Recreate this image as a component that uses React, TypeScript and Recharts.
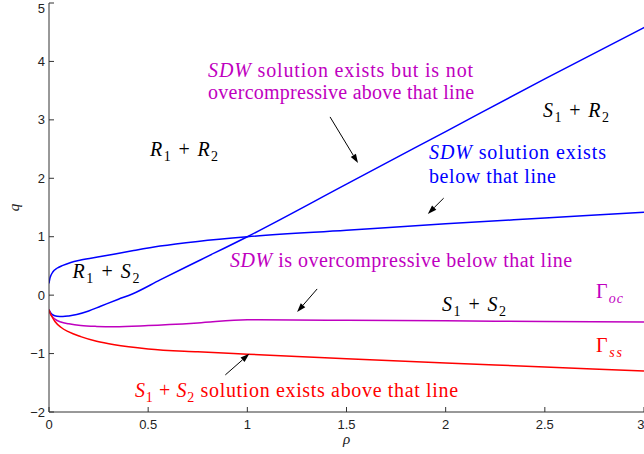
import React from 'react';
import { LineChart, Line, XAxis, YAxis, ReferenceDot, ReferenceLine } from 'recharts';

// ---- data ----
const xTicks = [0, 0.5, 1, 1.5, 2, 2.5, 3];
const yTicks = [-2, -1, 0, 1, 2, 3, 4, 5];

// upper blue curve (SDW solution exists below that line)
const sdwExistsRho = [0, 0.004, 0.01, 0.02, 0.04, 0.07, 0.11, 0.16, 0.26, 0.42, 0.56, 0.75, 1, 1.5, 2, 2.5, 3];
const sdwExistsQ = [0.2, 0.28, 0.34, 0.4, 0.46, 0.51, 0.56, 0.6, 0.66, 0.76, 0.84, 0.92, 1.0, 1.11, 1.22, 1.32, 1.42];

// lower blue curve (SDW not overcompressive above that line)
const sdwNotOcRho = [0, 0.008, 0.02, 0.04, 0.07, 0.1, 0.14, 0.2, 0.26, 0.35, 0.42, 0.56, 0.75, 1, 1.5, 2, 2.5, 3];
const sdwNotOcQ = [-0.25, -0.3, -0.34, -0.36, -0.365, -0.355, -0.33, -0.27, -0.19, -0.07, 0.02, 0.26, 0.58, 1.0, 1.9, 2.8, 3.7, 4.58];

// magenta curve Gamma_oc
const gammaOcRho = [0, 0.005, 0.015, 0.03, 0.06, 0.1, 0.16, 0.24, 0.33, 0.5, 0.75, 1, 1.5, 2, 2.5, 3];
const gammaOcQ = [-0.25, -0.3, -0.36, -0.41, -0.46, -0.49, -0.52, -0.535, -0.54, -0.52, -0.475, -0.42, -0.43, -0.44, -0.45, -0.46];

// red curve Gamma_ss
const gammaSsRho = [0, 0.005, 0.015, 0.03, 0.06, 0.1, 0.16, 0.24, 0.33, 0.5, 0.75, 1, 1.25, 1.5, 2, 2.5, 3];
const gammaSsQ = [-0.25, -0.3, -0.37, -0.45, -0.55, -0.63, -0.71, -0.79, -0.85, -0.92, -0.97, -1.01, -1.05, -1.09, -1.16, -1.23, -1.3];

const toRows = (rho: number[], q: number[]) => rho.map((r, i) => ({ rho: r, q: q[i] }));

type Seg = { t: string; i?: boolean; sub?: boolean };

// annotations (data coordinates: x = rho, y = q at text baseline; w = rendered text width)
const labels: { x: number; y: number; w: number; color: string; anchor: 'start' | 'middle'; segs: Seg[] }[] = [
  { x: 0.802, y: 3.733, w: 265, color: '#bf00bf', anchor: 'start', segs: [{ t: 'SDW', i: true }, { t: ' solution exists but is not' }] },
  { x: 0.802, y: 3.365, w: 266, color: '#bf00bf', anchor: 'start', segs: [{ t: 'overcompressive above that line' }] },
  { x: 0.681, y: 2.381, w: 68, color: '#000000', anchor: 'middle', segs: [{ t: 'R', i: true }, { t: '1', sub: true }, { t: ' + ' }, { t: 'R', i: true }, { t: '2', sub: true }] },
  { x: 2.657, y: 3.057, w: 66, color: '#000000', anchor: 'middle', segs: [{ t: 'S', i: true }, { t: '1', sub: true }, { t: ' + ' }, { t: 'R', i: true }, { t: '2', sub: true }] },
  { x: 1.916, y: 2.324, w: 177, color: '#0000ff', anchor: 'start', segs: [{ t: 'SDW', i: true }, { t: ' solution exists' }] },
  { x: 1.916, y: 1.924, w: 127, color: '#0000ff', anchor: 'start', segs: [{ t: 'below that line' }] },
  { x: 0.287, y: 0.293, w: 67, color: '#000000', anchor: 'middle', segs: [{ t: 'R', i: true }, { t: '1', sub: true }, { t: ' + ' }, { t: 'S', i: true }, { t: '2', sub: true }] },
  { x: 0.913, y: 0.486, w: 342, color: '#bf00bf', anchor: 'start', segs: [{ t: 'SDW', i: true }, { t: ' is overcompressive below that line' }] },
  { x: 2.143, y: -0.272, w: 64, color: '#000000', anchor: 'middle', segs: [{ t: 'S', i: true }, { t: '1', sub: true }, { t: ' + ' }, { t: 'S', i: true }, { t: '2', sub: true }] },
  { x: 2.758, y: -0.05, w: 27, color: '#bf00bf', anchor: 'start', segs: [{ t: 'Γ' }, { t: 'oc', i: true, sub: true }] },
  { x: 2.758, y: -0.98, w: 26, color: '#ff0000', anchor: 'start', segs: [{ t: 'Γ' }, { t: 'ss', i: true, sub: true }] },
  { x: 0.434, y: -1.745, w: 323, color: '#ff0000', anchor: 'start', segs: [{ t: 'S', i: true }, { t: '1', sub: true }, { t: ' + ' }, { t: 'S', i: true }, { t: '2', sub: true }, { t: ' solution exists above that line' }] },
];

const arrows = [
  { from: { x: 1.417, y: 3.05 }, to: { x: 1.558, y: 2.26 } },
  { from: { x: 1.99, y: 1.66 }, to: { x: 1.91, y: 1.39 } },
  { from: { x: 1.352, y: 0.106 }, to: { x: 1.251, y: -0.289 } },
  { from: { x: 0.889, y: -1.365 }, to: { x: 1.01, y: -1.005 } },
];

const SERIF = '"Liberation Serif", "Times New Roman", serif';
const SANS = '"Liberation Sans", Arial, Helvetica, sans-serif';

function MathText({ x, y, w, segs, color, anchor }: { x: number; y: number; w: number; segs: Seg[]; color: string; anchor: string }) {
  let shifted = false;
  const parts = segs.map((s, k) => {
    let dy: number | undefined;
    if (s.sub && !shifted) { dy = 5; shifted = true; }
    else if (!s.sub && shifted) { dy = -5; shifted = false; }
    return (
      <tspan key={k} dy={dy} fontStyle={s.i ? 'italic' : 'normal'} fontSize={s.sub ? 14 : undefined}>
        {s.t}
      </tspan>
    );
  });
  return (
    <text
      x={x}
      y={y}
      fill={color}
      textAnchor={anchor}
      fontFamily={SERIF}
      fontSize={20}
      textLength={w}
      lengthAdjust="spacing"
      style={{ whiteSpace: 'pre' }}
    >
      {parts}
    </text>
  );
}

function Arrow(props: any) {
  const { x1, y1, x2, y2 } = props;
  if ([x1, y1, x2, y2].some((v) => typeof v !== 'number' || isNaN(v))) return null;
  const ang = Math.atan2(y2 - y1, x2 - x1);
  const len = 9;
  const hw = 3;
  const bx = x2 - len * Math.cos(ang);
  const by = y2 - len * Math.sin(ang);
  const px = -Math.sin(ang) * hw;
  const py = Math.cos(ang) * hw;
  return (
    <g>
      <line x1={x1} y1={y1} x2={bx} y2={by} stroke="#000" strokeWidth={1} />
      <polygon points={`${x2},${y2} ${bx + px},${by + py} ${bx - px},${by - py}`} fill="#000" />
    </g>
  );
}

const fmt = (v: number) => String(v).replace('-', '\u2212');

export default function App() {
  return (
    <div style={{ position: 'absolute', left: 0, top: 0, width: 644, height: 454, background: '#fff' }}>
      <LineChart width={644} height={454} margin={{ top: 3, right: 0, bottom: 0, left: 0 }}>
        <XAxis
          type="number"
          dataKey="rho"
          domain={[0, 3]}
          ticks={xTicks}
          allowDataOverflow
          height={42}
          stroke="#333"
          tickSize={-5}
          tickMargin={13}
          tick={{ fontFamily: SANS, fontSize: 13, fill: '#222' }}
          tickFormatter={fmt}
          label={(p: any) => {
            const vb = p.viewBox || {};
            return (
              <text x={vb.x + vb.width / 2} y={vb.y + 32} textAnchor="middle" fontFamily={SERIF} fontStyle="italic" fontSize={15} fill="#222">
                ρ
              </text>
            );
          }}
        />
        <YAxis
          type="number"
          dataKey="q"
          domain={[-2, 5]}
          ticks={yTicks}
          allowDataOverflow
          width={49}
          stroke="#333"
          tickSize={-5}
          tickMargin={9}
          tick={{ fontFamily: SANS, fontSize: 13, fill: '#222' }}
          tickFormatter={fmt}
          label={(p: any) => {
            const vb = p.viewBox || {};
            const cx = vb.x + 14;
            const cy = vb.y + vb.height / 2;
            return (
              <text x={cx} y={cy} transform={`rotate(-90 ${cx} ${cy})`} textAnchor="middle" dominantBaseline="central" fontFamily={SERIF} fontStyle="italic" fontSize={15} fill="#222">
                q
              </text>
            );
          }}
        />
        <Line data={toRows(sdwExistsRho, sdwExistsQ)} dataKey="q" type="monotone" stroke="#0000ff" strokeWidth={1.5} dot={false} activeDot={false} isAnimationActive={false} />
        <Line data={toRows(sdwNotOcRho, sdwNotOcQ)} dataKey="q" type="monotone" stroke="#0000ff" strokeWidth={1.5} dot={false} activeDot={false} isAnimationActive={false} />
        <Line data={toRows(gammaOcRho, gammaOcQ)} dataKey="q" type="monotone" stroke="#bf00bf" strokeWidth={1.5} dot={false} activeDot={false} isAnimationActive={false} />
        <Line data={toRows(gammaSsRho, gammaSsQ)} dataKey="q" type="monotone" stroke="#ff0000" strokeWidth={1.5} dot={false} activeDot={false} isAnimationActive={false} />
        {arrows.map((a, i) => (
          <ReferenceLine key={`a${i}`} segment={[a.from, a.to]} ifOverflow="visible" shape={(p: any) => <Arrow {...p} />} />
        ))}
        {labels.map((l, i) => (
          <ReferenceDot
            key={`l${i}`}
            x={l.x}
            y={l.y}
            r={0}
            ifOverflow="visible"
            shape={(p: any) => <MathText x={p.cx} y={p.cy} w={l.w} segs={l.segs} color={l.color} anchor={l.anchor} />}
          />
        ))}
      </LineChart>
    </div>
  );
}
